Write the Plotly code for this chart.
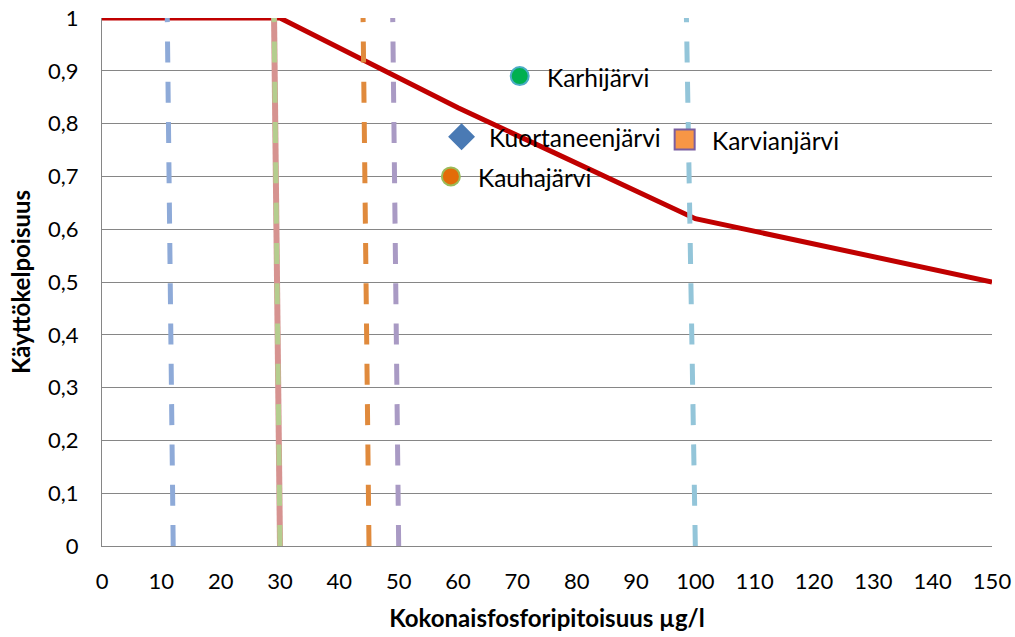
import plotly.graph_objects as go

# Käyttökelpoisuus as a function of total phosphorus (µg/l)
curve_x = [0, 30, 60, 100, 150]
curve_y = [1.0, 1.0, 0.83, 0.62, 0.5]

# Dashed class-boundary lines: (x at top y=1, x at bottom y=0)
boundary_top_x = [11, 29, 44, 49, 98.5]
boundary_bottom_x = [12, 30, 45, 50, 100]
boundary_colors = ["#8eaad8", "#b5cd8e", "#e08a3c", "#a99ac4", "#93c5d9"]

# Lakes
lake_names = ["Karhijärvi", "Kuortaneenjärvi", "Karvianjärvi", "Kauhajärvi"]
lake_x = [70.4, 60.6, 98.2, 58.8]
lake_y = [0.89, 0.775, 0.77, 0.70]
lake_symbols = ["circle", "diamond", "square", "circle"]
lake_fill = ["#00b050", "#4a7ab4", "#f79646", "#e36c09"]
lake_edge = ["#4bacc6", "#4a7ab4", "#7a5ea0", "#9bbb59"]
lake_size = [18, 18.5, 20, 18]

FONT = "Lato"
GRID = "#868686"

fig = go.Figure()

# Main curve
fig.add_trace(go.Scatter(
    x=curve_x, y=curve_y, mode="lines",
    line=dict(color="#c00000", width=5),
    hoverinfo="skip", showlegend=False,
))

# Boundary lines, drawn from bottom to top
for i, (xt, xb, col) in enumerate(zip(boundary_top_x, boundary_bottom_x, boundary_colors)):
    if i == 1:
        # solid pink underlay with green dashes on top
        fig.add_trace(go.Scatter(
            x=[xb, xt], y=[0, 1], mode="lines",
            line=dict(color="#d69390", width=6),
            hoverinfo="skip", showlegend=False,
        ))
        fig.add_trace(go.Scatter(
            x=[xb, xt], y=[0, 1], mode="lines",
            line=dict(color=col, width=5, dash="21px,19.3px"),
            hoverinfo="skip", showlegend=False,
        ))
    else:
        fig.add_trace(go.Scatter(
            x=[xb, xt], y=[0, 1], mode="lines",
            line=dict(color=col, width=5, dash="21px,19.3px"),
            hoverinfo="skip", showlegend=False,
        ))

# Lake markers
for name, x, y, sym, fc, ec, sz in zip(lake_names, lake_x, lake_y, lake_symbols,
                                       lake_fill, lake_edge, lake_size):
    fig.add_trace(go.Scatter(
        x=[x], y=[y], mode="markers", name=name,
        marker=dict(symbol=sym, size=sz, color=fc, line=dict(color=ec, width=2)),
        showlegend=False,
    ))
    fig.add_annotation(
        x=x, y=y, text=name, showarrow=False,
        xanchor="left", yanchor="middle", xshift=25, yshift=-1,
        font=dict(family=FONT, size=24.5, color="#000000"),
    )

fig.update_layout(
    width=1015, height=637,
    margin=dict(l=102, r=23, t=18, b=91, autoexpand=False),
    paper_bgcolor="white", plot_bgcolor="white",
    separators=", ",
    font=dict(family=FONT, size=22, color="#000000"),
    showlegend=False,
)

fig.update_xaxes(
    range=[0, 150], tick0=0, dtick=10,
    showgrid=False, zeroline=False,
    showline=True, linecolor=GRID, linewidth=1,
    ticks="", ticklabelstandoff=16,
    tickfont=dict(family=FONT, size=22),
    title=dict(text="<b>Kokonaisfosforipitoisuus µg/l</b>",
               font=dict(family=FONT, size=24), standoff=16),
)
fig.update_yaxes(
    range=[0, 1], tick0=0, dtick=0.1,
    showgrid=True, gridcolor=GRID, gridwidth=1,
    zeroline=False,
    showline=True, linecolor=GRID, linewidth=1,
    ticks="", ticklabelstandoff=18,
    tickfont=dict(family=FONT, size=22),
    title=dict(text="<b>Käyttökelpoisuus</b>",
               font=dict(family=FONT, size=24), standoff=10),
)

fig.write_html("out.html")
